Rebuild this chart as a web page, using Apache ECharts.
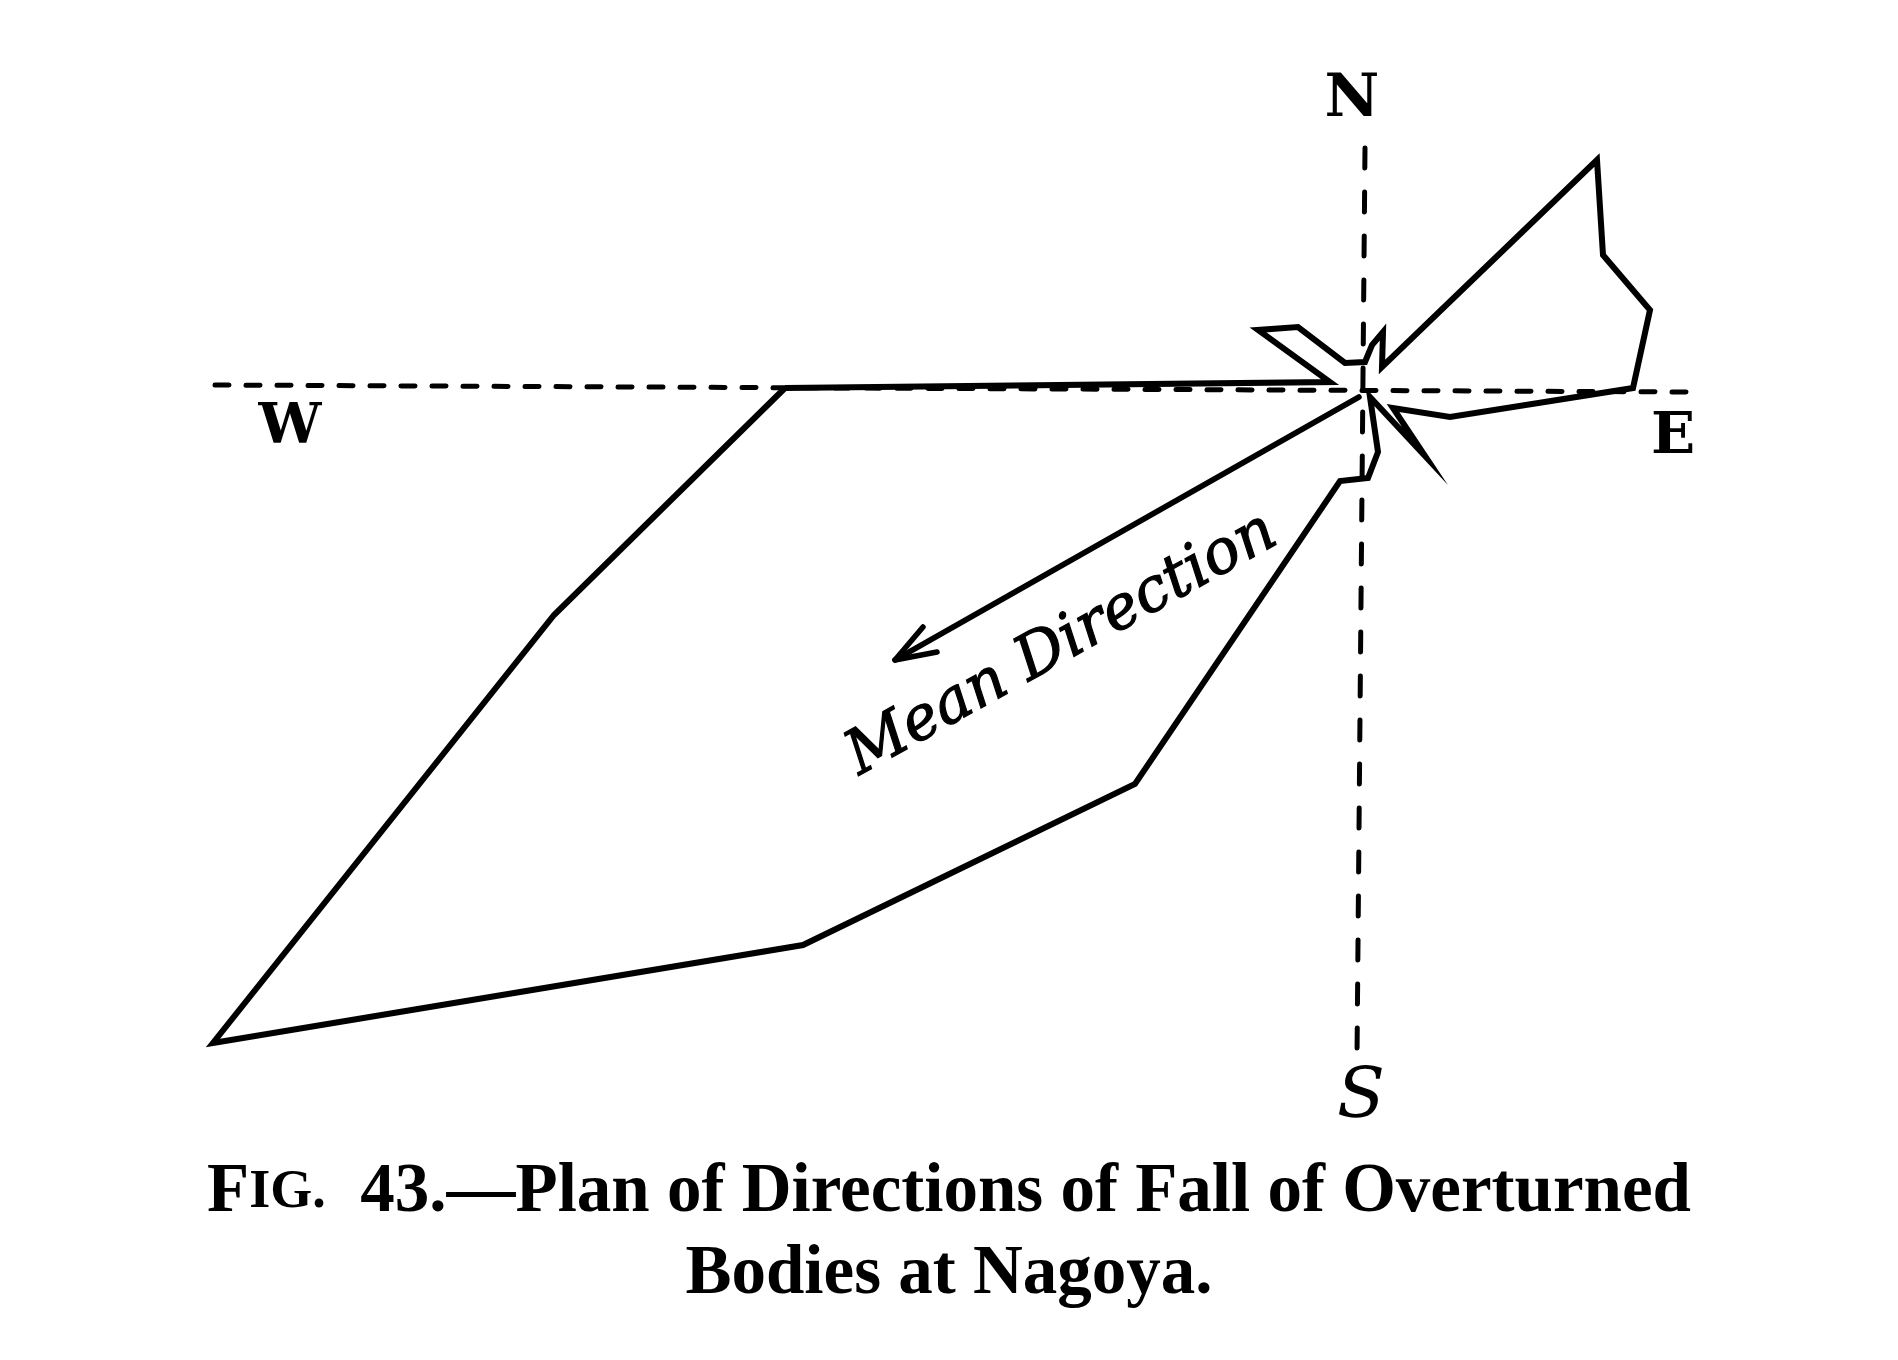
<!DOCTYPE html>
<html>
<head>
<meta charset="utf-8">
<script src="https://cdn.jsdelivr.net/npm/echarts@6/dist/echarts.min.js"></script>
<style>
  html, body { margin: 0; padding: 0; background: #fff; }
  #chart { width: 1898px; height: 1360px; }
</style>
</head>
<body>
<div id="chart"></div>
<script>
// Plan coordinates: x = east(+)/west(-), y = north(+)/south(-), origin at Nagoya station
const fallOutline = [
  [-57.8, 0.3], [-3.3, 0.9], [-10.5, 6.1], [-6.5, 6.4], [-1.8, 2.8],
  [0.2, 2.9], [0.9, 4.6], [2.0, 5.9], [1.9, 2.4], [23.4, 23.1],
  [24.0, 13.6], [28.7, 8.1], [27.0, 0.3], [8.7, -2.6], [3.0, -1.7],
  [6.2, -6.5], [0.7, -0.6], [1.5, -6.1], [0.5, -8.7], [-2.3, -9.0],
  [-22.8, -39.3], [-56.0, -55.4], [-115.0, -65.2], [-80.9, -22.4], [-57.8, 0.3]
];
const meanDirectionLine = [[-0.4, -0.6], [-46.8, -26.9]];
const meanDirectionHead = [[-44.0, -23.6], [-46.8, -26.9], [-42.6, -26.1]];
const meanDirectionLabelAt = [[-30.1, -25.4]];
const meanDirectionText = 'Mean Direction';
const eastWestLine = [[-114.8, 0.6], [33.0, -0.1]];
const northSouthLine = [[0.2, 24.3], [-0.6, -66.6]];
const compassLetters = ['N', 'E', 'S', 'W'];
const captionLine1 = '43.—Plan of Directions of Fall of Overturned';
const captionLine2 = 'Bodies at Nagoya.';

const chart = echarts.init(document.getElementById('chart'), null, { renderer: 'canvas' });

const hiddenAxis = {
  type: 'value',
  axisLine: { show: false }, axisTick: { show: false },
  axisLabel: { show: false }, splitLine: { show: false }
};

const ink = '#000';
const letterFont = (size, style, weight) =>
  `${style} ${weight} ${size}px "DejaVu Serif", serif`;

const option = {
  backgroundColor: '#fff',
  animation: false,
  grid: { left: 163, right: 135, top: 91, bottom: 269 },
  xAxis: Object.assign({}, hiddenAxis, { min: -120, max: 40 }),
  yAxis: Object.assign({}, hiddenAxis, { min: -70, max: 30 }),
  title: {
    left: 'center',
    top: 1147,
    text: '{cap|F}{sc|IG.}  ' + captionLine1 + '\n' + captionLine2,
    textStyle: {
      fontFamily: '"Liberation Serif", serif',
      fontWeight: 'bold',
      fontSize: 69,
      lineHeight: 82,
      color: ink,
      rich: {
        cap: { fontFamily: '"Liberation Serif", serif', fontWeight: 'bold', fontSize: 69, lineHeight: 82, color: ink },
        sc: { fontFamily: '"Liberation Serif", serif', fontWeight: 'bold', fontSize: 54, lineHeight: 82, color: ink }
      }
    }
  },
  series: [
    {
      type: 'line', data: eastWestLine, symbol: 'none', silent: true,
      lineStyle: { color: ink, width: 5, type: [14, 17], cap: 'round' }
    },
    {
      type: 'line', data: northSouthLine, symbol: 'none', silent: true,
      lineStyle: { color: ink, width: 5, type: [20, 24], cap: 'round' }
    },
    {
      type: 'line', data: fallOutline, symbol: 'none', silent: true,
      lineStyle: { color: ink, width: 6, join: 'miter', miterLimit: 20 }
    },
    {
      type: 'line', data: meanDirectionLine, symbol: 'none', silent: true,
      lineStyle: { color: ink, width: 5.5, cap: 'round' }
    },
    {
      type: 'line', data: meanDirectionHead, symbol: 'none', silent: true,
      lineStyle: { color: ink, width: 5.5, cap: 'round', join: 'round' }
    },
    {
      type: 'scatter', data: meanDirectionLabelAt, symbolSize: 1, silent: true,
      itemStyle: { color: 'rgba(0,0,0,0)', opacity: 1 },
      label: {
        show: true, position: 'inside', rotate: 29,
        formatter: meanDirectionText, opacity: 1,
        color: ink, fontFamily: '"DejaVu Serif", serif', fontStyle: 'italic',
        fontSize: 61, textBorderColor: ink, textBorderWidth: 1.2
      }
    }
  ],
  graphic: [
    { type: 'text', x: 1352, y: 100, style: { text: compassLetters[0], fill: ink, font: letterFont(60, 'normal', 'bold'), align: 'center', verticalAlign: 'middle' } },
    { type: 'text', x: 1673, y: 438, style: { text: compassLetters[1], fill: ink, font: letterFont(58, 'normal', 'bold'), align: 'center', verticalAlign: 'middle' } },
    { type: 'text', x: 1361, y: 1099, style: { text: compassLetters[2], fill: ink, font: letterFont(70, 'italic', 'normal'), align: 'center', verticalAlign: 'middle' } },
    { type: 'text', x: 290, y: 428, style: { text: compassLetters[3], fill: ink, font: letterFont(56, 'normal', 'bold'), align: 'center', verticalAlign: 'middle' } }
  ]
};

chart.setOption(option);
</script>
</body>
</html>
